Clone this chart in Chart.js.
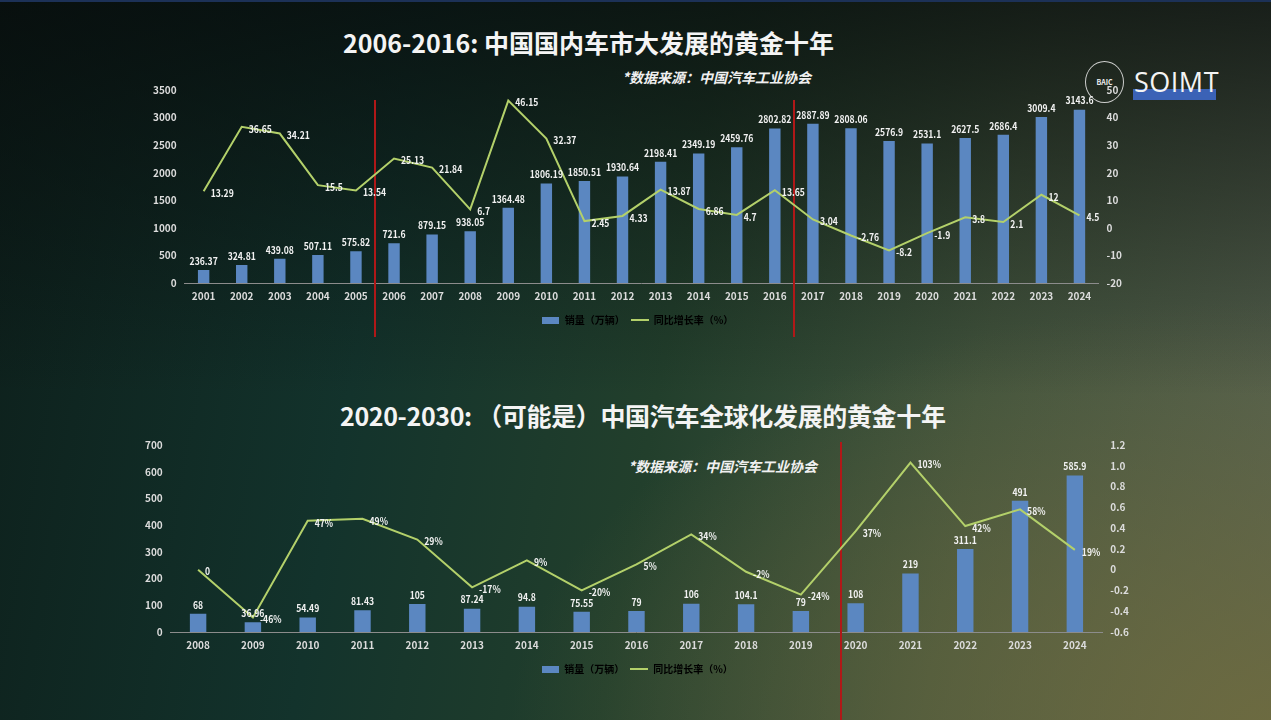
<!DOCTYPE html>
<html lang="zh-CN">
<head>
<meta charset="utf-8">
<title>中国汽车销量与出口</title>
<script src="https://cdn.jsdelivr.net/npm/chart.js@4.4.1/dist/chart.umd.min.js"></script>
<style>
  html, body { margin: 0; padding: 0; }
  body {
    width: 1271px; height: 720px; overflow: hidden; position: relative;
    border-top: 2px solid #1c3157; box-sizing: border-box;
    background:
      linear-gradient(to bottom, rgba(6,10,10,0.75) 0%, rgba(6,10,10,0.35) 30%, rgba(6,10,10,0) 55%),
      radial-gradient(ellipse 760px 420px at 100% 100%, rgba(112,108,62,0.85), rgba(112,108,62,0) 100%),
      linear-gradient(100deg, #0d1f1b 0%, #13332c 30%, #223f2c 52%, #42543d 75%, #56614f 100%);
    font-family: "Noto Sans CJK SC", "Noto Sans", sans-serif;
  }
  .title {
    position: absolute; color: #f4f4f4; font-weight: 700; font-size: 25px;
    white-space: nowrap;
  }
  .source {
    position: absolute; color: #f0f0f0; font-weight: 700; font-style: italic;
    font-size: 14px; white-space: nowrap;
  }
  .chart-box { position: absolute; }
  .logo-ring {
    position: absolute; left: 1085px; top: 59px; width: 37px; height: 40px;
    border: 1.5px solid rgba(235,235,235,0.85); border-radius: 50%;
    color: #eee; font-size: 7px; font-weight: 700; text-align: center; line-height: 40px;
  }
  .logo-bar { position: absolute; left: 1133px; top: 87px; width: 83px; height: 11px; background: #3b62b6; }
  .logo-text {
    position: absolute; left: 1134px; top: 64px; color: #f4f4f4; font-size: 27px;
    font-family: "Open Sans", "Noto Sans", sans-serif; line-height: 32px; letter-spacing: 0.5px;
  }
</style>
</head>
<body>
<div class="title" style="left:343px; top:22px;">2006-2016: 中国国内车市大发展的黄金十年</div>
<div class="source" style="left:622px; top:65px;">*数据来源：中国汽车工业协会</div>
<div class="logo-ring">BAIC</div>
<div class="logo-bar"></div>
<div class="logo-text">SOIMT</div>
<div class="chart-box" style="left:138px; top:74px; width:1004px; height:269px;"><canvas id="domestic"></canvas></div>

<div class="title" style="left:340px; top:395px; letter-spacing:-0.35px;">2020-2030: （可能是）中国汽车全球化发展的黄金十年</div>
<div class="source" style="left:628px; top:454px;">*数据来源：中国汽车工业协会</div>
<div class="chart-box" style="left:126px; top:429px; width:1018px; height:291px;"><canvas id="export"></canvas></div>

<script>
// 国内销量 2001-2024
const domesticYears = ['2001','2002','2003','2004','2005','2006','2007','2008','2009','2010','2011','2012',
  '2013','2014','2015','2016','2017','2018','2019','2020','2021','2022','2023','2024'];
const domesticSales = [236.37, 324.81, 439.08, 507.11, 575.82, 721.6, 879.15, 938.05, 1364.48, 1806.19, 1850.51, 1930.64,
  2198.41, 2349.19, 2459.76, 2802.82, 2887.89, 2808.06, 2576.9, 2531.1, 2627.5, 2686.4, 3009.4, 3143.6];
const domesticGrowth = [13.29, 36.65, 34.21, 15.5, 13.54, 25.13, 21.84, 6.7, 46.15, 32.37, 2.45, 4.33,
  13.87, 6.86, 4.7, 13.65, 3.04, -2.76, -8.2, -1.9, 3.8, 2.1, 12, 4.5];

// 出口销量 2008-2024
const exportYears = ['2008','2009','2010','2011','2012','2013','2014','2015','2016','2017','2018','2019',
  '2020','2021','2022','2023','2024'];
const exportSales = [68, 36.96, 54.49, 81.43, 105, 87.24, 94.8, 75.55, 79, 106, 104.1, 79, 108, 219, 311.1, 491, 585.9];
const exportGrowth = [0, -0.46, 0.47, 0.49, 0.29, -0.17, 0.09, -0.20, 0.05, 0.34, -0.02, -0.24, 0.37, 1.03, 0.42, 0.58, 0.19];

const salesLabel = '销量（万辆）';
const growthLabel = '同比增长率（%）';

const BAR_COLOR = '#5b87c1';
const LINE_COLOR = '#b3d06a';
const TEXT_COLOR = '#dcdcdc';
const NUM_FONT = '"Noto Sans CJK SC", sans-serif';

Chart.defaults.font.family = NUM_FONT;
Chart.defaults.color = TEXT_COLOR;

function swatch(w, h, color) {
  const c = document.createElement('canvas');
  c.width = w; c.height = h;
  const g = c.getContext('2d');
  g.fillStyle = color;
  g.fillRect(0, 0, w, h);
  return c;
}

// 数据标签：柱子上方居中，折线点右侧（字体略作横向压缩）
const valueLabels = {
  id: 'valueLabels',
  afterDatasetsDraw(chart, args, opts) {
    const ctx = chart.ctx;
    const sx = 0.86;
    ctx.save();
    ctx.font = 'bold 10px ' + NUM_FONT;
    ctx.fillStyle = '#f2f2f2';
    chart.data.datasets.forEach((ds, i) => {
      const meta = chart.getDatasetMeta(i);
      const fmt = (opts.format && opts.format[i]) || (v => String(v));
      meta.data.forEach((el, j) => {
        const text = fmt(ds.data[j]);
        ctx.save();
        if (ds.type === 'bar') {
          ctx.translate(el.x, el.y - 4);
          ctx.scale(sx, 1);
          ctx.textAlign = 'center';
          ctx.textBaseline = 'bottom';
        } else {
          ctx.translate(el.x + 7, el.y + 2);
          ctx.scale(sx, 1);
          ctx.textAlign = 'left';
          ctx.textBaseline = 'middle';
        }
        ctx.fillText(text, 0, 0);
        ctx.restore();
      });
    });
    ctx.restore();
  }
};

// 红色分隔竖线
const dividers = {
  id: 'dividers',
  beforeDatasetsDraw(chart, args, opts) {
    const ctx = chart.ctx;
    const x = chart.scales.x;
    ctx.save();
    ctx.strokeStyle = '#b01818';
    ctx.lineWidth = 2;
    (opts.at || []).forEach(idx => {
      const px = Math.round(x.getPixelForValue(idx));
      ctx.beginPath();
      ctx.moveTo(px, opts.top);
      ctx.lineTo(px, chart.height - opts.bottom);
      ctx.stroke();
    });
    ctx.restore();
  }
};

function makeChart(id, cfg) {
  return new Chart(document.getElementById(id), {
    data: {
      labels: cfg.labels,
      datasets: [
        { type: 'line', label: growthLabel, data: cfg.growth, yAxisID: 'y1', borderColor: LINE_COLOR,
          borderWidth: 2, pointRadius: 0, tension: 0, order: 0 },
        { type: 'bar', label: salesLabel, data: cfg.sales, yAxisID: 'y', backgroundColor: BAR_COLOR,
          barPercentage: 0.3, categoryPercentage: 1, order: 1 }
      ]
    },
    options: {
      responsive: true,
      maintainAspectRatio: false,
      animation: false,
      layout: { padding: cfg.padding },
      scales: {
        x: {
          grid: { display: false, drawTicks: false },
          border: { color: '#8c8c8c', width: 1 },
          ticks: { font: { size: 10, weight: 'bold' }, padding: 7, color: TEXT_COLOR, maxRotation: 0, autoSkip: false }
        },
        y: {
          position: 'left', min: cfg.yMin, max: cfg.yMax,
          grid: { display: false, drawTicks: false }, border: { display: false },
          ticks: { stepSize: cfg.yStep, font: { size: 10, weight: 'bold' }, padding: 8, color: TEXT_COLOR,
            callback: v => String(v) }
        },
        y1: {
          position: 'right', min: cfg.y1Min, max: cfg.y1Max,
          grid: { display: false, drawTicks: false }, border: { display: false },
          ticks: { stepSize: cfg.y1Step, font: { size: 10, weight: 'bold' }, padding: 8, color: TEXT_COLOR }
        }
      },
      plugins: {
        legend: {
          position: 'bottom',
          labels: {
            usePointStyle: true,
            pointStyleWidth: 18,
            padding: 6,
            color: TEXT_COLOR,
            font: { size: 10, weight: 'bold', family: '"Noto Sans CJK SC", sans-serif' },
            generateLabels: () => [
              { text: salesLabel, pointStyle: swatch(17, 7, BAR_COLOR), fillStyle: BAR_COLOR, lineWidth: 0, hidden: false, datasetIndex: 1 },
              { text: growthLabel, pointStyle: swatch(18, 2, LINE_COLOR), fillStyle: LINE_COLOR, lineWidth: 0, hidden: false, datasetIndex: 0 }
            ]
          }
        },
        tooltip: { enabled: false },
        valueLabels: { format: cfg.format },
        dividers: cfg.dividers
      }
    },
    plugins: [dividers, valueLabels]
  });
}

makeChart('domestic', {
  labels: domesticYears, sales: domesticSales, growth: domesticGrowth,
  yMin: 0, yMax: 3500, yStep: 500, y1Min: -20, y1Max: 50, y1Step: 10,
  padding: { top: 2, left: 7, right: 12, bottom: 10 },
  dividers: { at: [4.5, 15.5], top: 24, bottom: 8 },
  format: [v => String(v), v => String(v)]
});

makeChart('export', {
  labels: exportYears, sales: exportSales, growth: exportGrowth,
  yMin: 0, yMax: 700, yStep: 100, y1Min: -0.6, y1Max: 1.2, y1Step: 0.2,
  padding: { top: 4, left: 11, right: 7, bottom: 38 },
  dividers: { at: [11.73], top: 11, bottom: 0 },
  format: [v => (v === 0 ? '0' : Math.round(v * 100) + '%'), v => String(v)]
});
</script>
</body>
</html>
